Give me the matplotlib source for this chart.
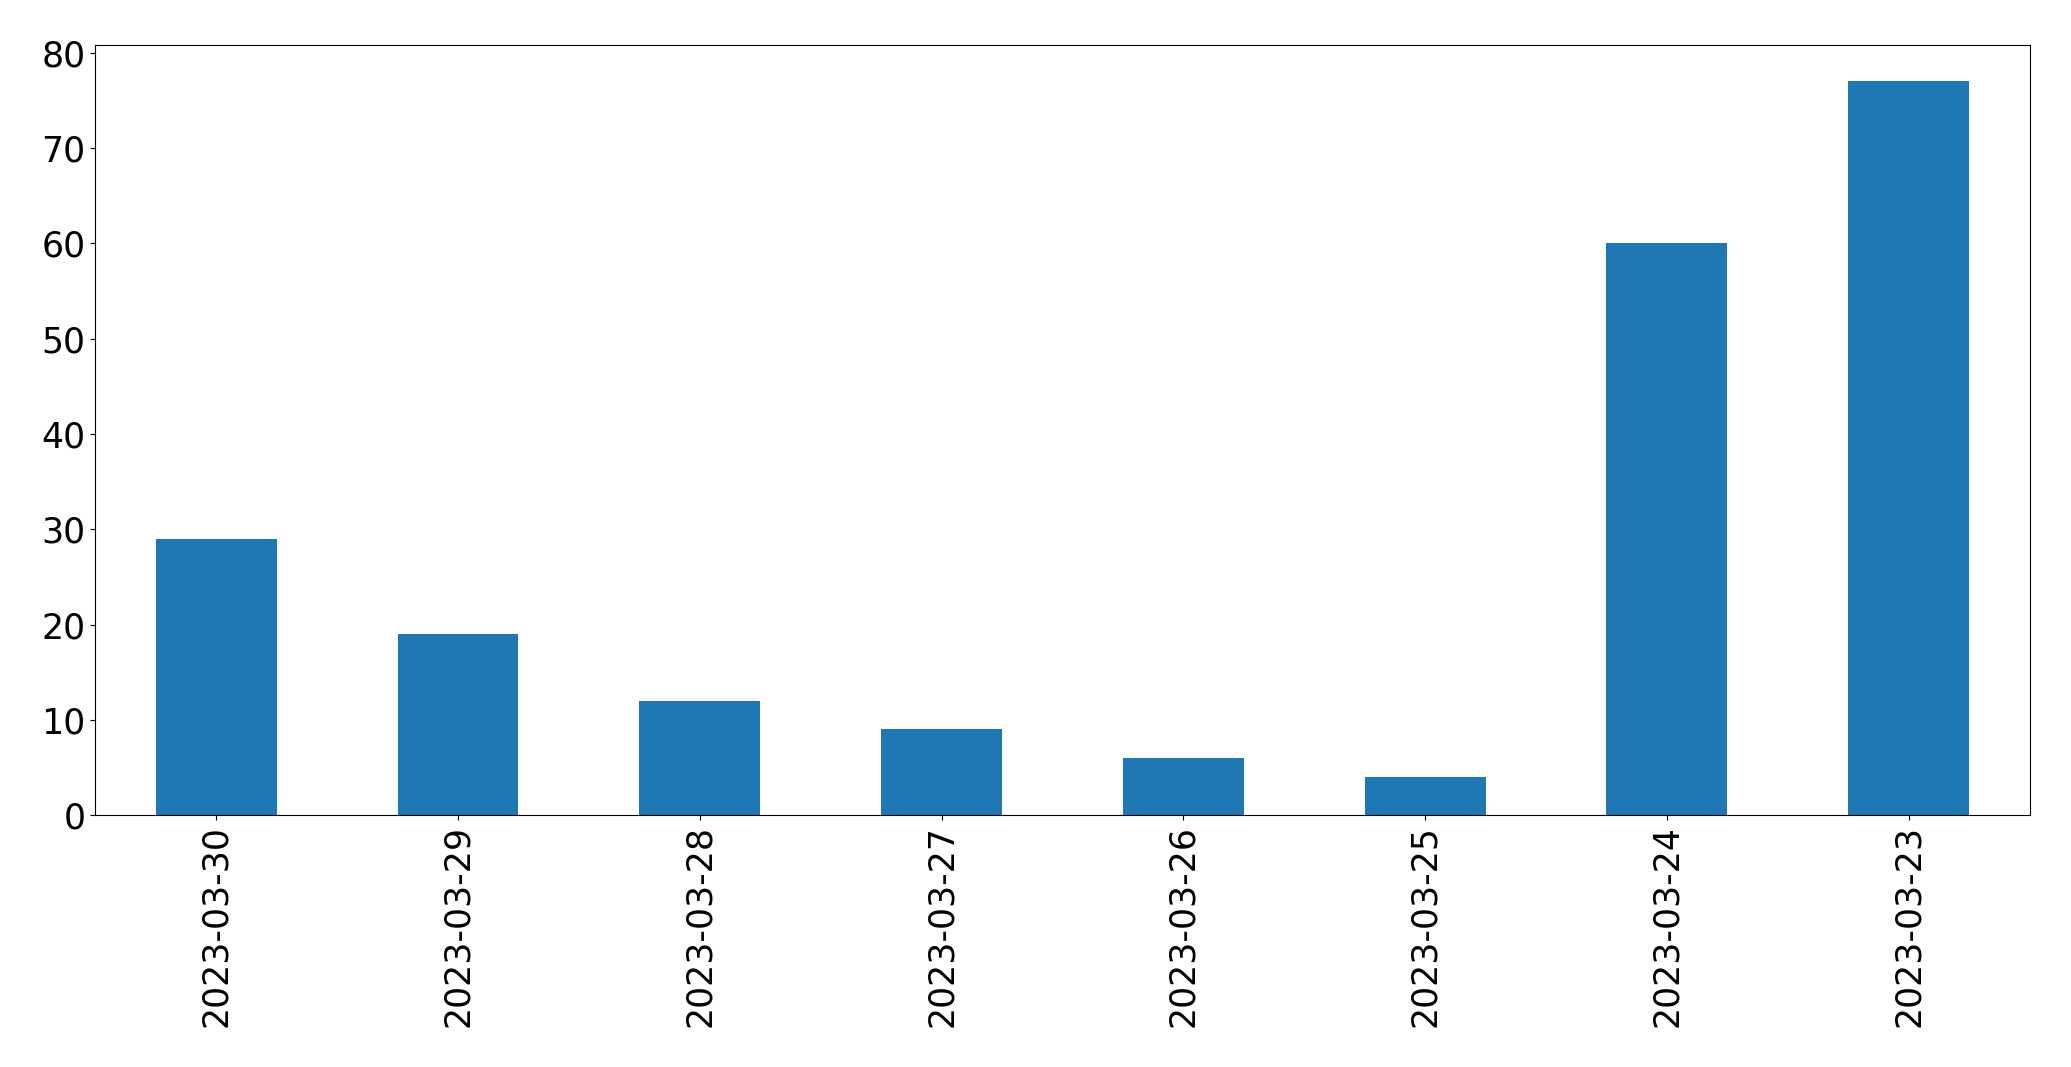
import matplotlib
matplotlib.use("Agg")
import matplotlib.pyplot as plt

dates = ["2023-03-30", "2023-03-29", "2023-03-28", "2023-03-27",
         "2023-03-26", "2023-03-25", "2023-03-24", "2023-03-23"]
counts = [29, 19, 12, 9, 6, 4, 60, 77]

fig, ax = plt.subplots(figsize=(20.71, 10.67), dpi=100)
x = list(range(len(dates)))
ax.bar(x, counts, width=0.5, color="#1f77b4")
ax.set_xlim(-0.5, len(dates) - 0.5)
ax.set_ylim(0, max(counts) * 1.05)
ax.set_xticks(x)
ax.set_xticklabels(dates, rotation=90)
ax.tick_params(labelsize=25)
fig.subplots_adjust(left=0.046, right=0.980, top=0.958, bottom=0.236)
fig.savefig("out.png", dpi=100)
